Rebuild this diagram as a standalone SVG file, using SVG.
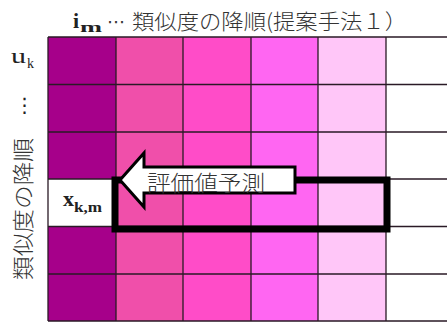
<svg xmlns="http://www.w3.org/2000/svg" width="447" height="323" viewBox="0 0 447 323">
<style>
.c1{fill:#A6008A}.c2{fill:#F04FAA}.c3{fill:#FF4CC8}.c4{fill:#FF66F2}.c5{fill:#FFC6F8}.c6{fill:#FFFFFF}
.grid{stroke:#2a1a26;stroke-width:1.3;fill:none}
.serif{font-family:"Liberation Serif","DejaVu Serif",serif;fill:#222}
.jp{font-family:"Noto Sans CJK JP","Noto Sans CJK SC",sans-serif;fill:#333;font-weight:300}
</style>
<rect width="447" height="323" fill="#fff"/>
<g id="title">
<text class="serif" x="73" y="28" font-size="22" font-weight="bold">i</text>
<text class="serif" x="80" y="32" font-size="15" font-weight="bold" textLength="22" lengthAdjust="spacingAndGlyphs">m</text>
<text x="107" y="28" font-size="18" font-family="DejaVu Sans,sans-serif" fill="#333" textLength="18" lengthAdjust="spacingAndGlyphs">⋯</text>
<text class="jp" x="132" y="29" font-size="21" textLength="275" lengthAdjust="spacingAndGlyphs">類似度の降順(提案手法１）</text>
</g>
<g id="row-labels">
<text class="serif" x="11" y="63" font-size="22" textLength="15" lengthAdjust="spacingAndGlyphs">u</text>
<text class="serif" x="27" y="68" font-size="14">k</text>
<text x="24.5" y="112" font-size="20" text-anchor="middle" font-family="DejaVu Sans,sans-serif" fill="#222">⋮</text>
<text class="jp" transform="translate(31,209) rotate(-90)" font-size="22" text-anchor="middle" textLength="142" lengthAdjust="spacingAndGlyphs">類似度の降順</text>
</g>
<g id="matrix">
<rect class="c1" x="48" y="37" width="68" height="284"/>
<rect class="c2" x="116" y="37" width="67" height="284"/>
<rect class="c3" x="183" y="37" width="68" height="284"/>
<rect class="c4" x="251" y="37" width="67" height="284"/>
<rect class="c5" x="318" y="37" width="68" height="284"/>
<rect class="c6" x="48" y="179" width="68" height="47.5"/>
<path class="grid" d="M48,37H447M48,84.5H447M48,132H447M48,179H447M48,226.5H447M48,274H447M48,321H447M48,37V321M116,37V321M183,37V321M251,37V321M318,37V321M386,37V321"/>
</g>
<g id="cell-xkm">
<text class="serif" x="63" y="206" font-size="20" font-weight="bold" textLength="11" lengthAdjust="spacingAndGlyphs">x</text>
<text class="serif" x="74" y="212" font-size="14" font-weight="bold" textLength="28" lengthAdjust="spacingAndGlyphs">k,m</text>
</g>
<g id="highlight">
<rect x="115" y="180" width="272" height="49" fill="none" stroke="#000" stroke-width="7"/>
</g>
<g id="connectors">
<polygon points="120,180 144,153 144,167 295,167 295,193 144,193 144,207" fill="#fff" stroke="#000" stroke-width="3" stroke-linejoin="miter"/>
<text class="jp" x="147" y="191" font-size="22" textLength="118" lengthAdjust="spacingAndGlyphs">評価値予測</text>
</g>
</svg>
